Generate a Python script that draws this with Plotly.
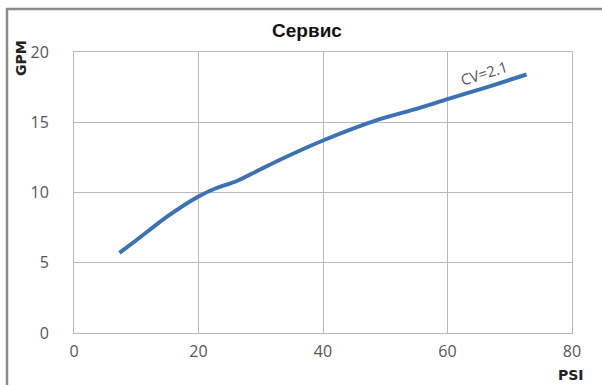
import plotly.graph_objects as go

# Flow curve: pressure drop (PSI) vs flow (GPM)
psi = [7.3, 10, 15, 20, 22.9, 26.1, 29.3, 33.1, 40, 49, 55, 60, 66, 72.7]
gpm = [5.7, 6.6, 8.3, 9.72, 10.32, 10.8, 11.5, 12.33, 13.7, 15.2, 15.95, 16.65, 17.45, 18.4]

x_ticks = [0, 20, 40, 60, 80]
y_ticks = [0, 5, 10, 15, 20]

title_text = "Сервис"
curve_label = "CV=2.1"

W, H = 602, 385
L, R, T, B = 74, 30, 52, 52
pw, ph = W - L - R, H - T - B


def px_to_paper_x(px):
    return (px - L) / pw


def px_to_paper_y(py):
    return (H - B - py) / ph


fig = go.Figure()
fig.add_trace(go.Scatter(
    x=psi, y=gpm, mode="lines",
    line=dict(color="#3b72b7", width=4, shape="spline", smoothing=0.6),
    hoverinfo="skip", showlegend=False,
))

tick_font = dict(family="Open Sans, sans-serif", size=16, color="#555555")
grid_col = "#b8b8b8"

fig.update_layout(
    width=W, height=H,
    margin=dict(l=L, r=R, t=T, b=B),
    paper_bgcolor="white", plot_bgcolor="white",
    title=dict(text="<b>" + title_text + "</b>", x=307 / W, xref="container",
               xanchor="center", y=1 - 30 / H, yref="container", yanchor="middle",
               font=dict(family="Liberation Sans, Arial, sans-serif", size=19, color="#111111")),
    xaxis=dict(range=[0, 80], tickvals=x_ticks, ticktext=[str(v) for v in x_ticks],
               showgrid=True, gridcolor=grid_col, gridwidth=1, zeroline=False,
               showline=True, linecolor=grid_col, linewidth=1, mirror=True,
               ticks="", tickfont=tick_font, ticklabelstandoff=4, fixedrange=True),
    yaxis=dict(range=[0, 20], tickvals=y_ticks, ticktext=[str(v) for v in y_ticks],
               showgrid=True, gridcolor=grid_col, gridwidth=1, zeroline=False,
               showline=True, linecolor=grid_col, linewidth=1, mirror=True,
               ticks="", tickfont=tick_font, ticklabelstandoff=21, fixedrange=True),
    annotations=[
        dict(x=65.8, y=18.5, xref="x", yref="y", text=curve_label, showarrow=False,
             textangle=-17, xanchor="center", yanchor="middle",
             font=dict(family="Open Sans, sans-serif", size=15, color="#555555")),
        dict(x=px_to_paper_x(21), y=px_to_paper_y(58), xref="paper", yref="paper",
             text="<b>GPM</b>", showarrow=False, textangle=-90,
             xanchor="center", yanchor="middle",
             font=dict(family="DejaVu Sans, sans-serif", size=14, color="#222222")),
        dict(x=px_to_paper_x(571), y=px_to_paper_y(375), xref="paper", yref="paper",
             text="<b>PSI</b>", showarrow=False, xanchor="center", yanchor="middle",
             font=dict(family="DejaVu Sans, sans-serif", size=14, color="#222222")),
    ],
    shapes=[
        # outer frame lines (top and left)
        dict(type="line", xref="paper", yref="paper",
             x0=px_to_paper_x(6), x1=px_to_paper_x(W), y0=px_to_paper_y(9), y1=px_to_paper_y(9),
             line=dict(color="#8a8a8a", width=2.5)),
        dict(type="line", xref="paper", yref="paper",
             x0=px_to_paper_x(7), x1=px_to_paper_x(7), y0=px_to_paper_y(8), y1=px_to_paper_y(H),
             line=dict(color="#8a8a8a", width=2.5)),
    ],
)

fig.write_html("out.html")
